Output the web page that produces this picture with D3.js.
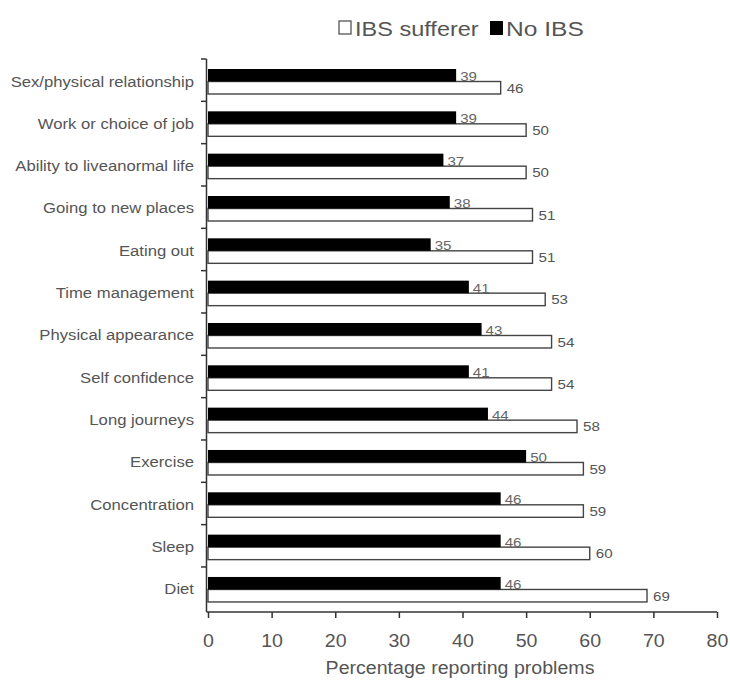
<!DOCTYPE html>
<html>
<head>
<meta charset="utf-8">
<script src="https://cdn.jsdelivr.net/npm/d3@7"></script>
<style>
  html, body { margin: 0; padding: 0; background: #fff; }
  svg { display: block; font-family: "Liberation Sans", Arial, sans-serif; }
</style>
</head>
<body>
<svg id="chart" width="730" height="683"></svg>
<script>
// Problems reported, top to bottom
const categories = [
  "Sex/physical relationship",
  "Work or choice of job",
  "Ability to liveanormal life",
  "Going to new places",
  "Eating out",
  "Time management",
  "Physical appearance",
  "Self confidence",
  "Long journeys",
  "Exercise",
  "Concentration",
  "Sleep",
  "Diet"
];
const noIBS       = [39, 39, 37, 38, 35, 41, 43, 41, 44, 50, 46, 46, 46];
const ibsSufferer = [46, 50, 50, 51, 51, 53, 54, 54, 58, 59, 59, 60, 69];
const seriesNames = ["No IBS", "IBS sufferer"];
const xTicks = [0, 10, 20, 30, 40, 50, 60, 70, 80];
const xTitle = "Percentage reporting problems";

const svg = d3.select("#chart");
const stretch = "scale(1.12,1)";
const textCol = "#555";

const x = d3.scaleLinear().domain([0, 80]).range([208, 717]);
const y0 = d3.scaleBand().domain(categories).range([59, 609.3]).padding(0);
const y1 = d3.scaleBand().domain(seriesNames).range([10, 35]).padding(0);
const axisY = 612;

const rows = categories.map((c, i) => ({ c, no: noIBS[i], ibs: ibsSufferer[i] }));

// bars
const g = svg.append("g");
const row = g.selectAll("g.row").data(rows).join("g")
  .attr("class", "row")
  .attr("transform", d => `translate(0,${y0(d.c)})`);

row.append("rect")
  .attr("x", x(0))
  .attr("y", y1("IBS sufferer"))
  .attr("width", d => x(d.ibs) - x(0))
  .attr("height", y1.bandwidth())
  .attr("fill", "#fff")
  .attr("stroke", "#444")
  .attr("stroke-width", 1.4);

row.append("rect")
  .attr("x", x(0))
  .attr("y", y1("No IBS"))
  .attr("width", d => x(d.no) - x(0))
  .attr("height", y1.bandwidth())
  .attr("fill", "#000");

// value labels
row.append("text")
  .attr("transform", d => `translate(${x(d.no) + 4},${y1("No IBS") + y1.bandwidth() - 0.5}) ${stretch}`)
  .attr("font-size", 13.5)
  .attr("fill", "#666")
  .text(d => d.no);

row.append("text")
  .attr("transform", d => `translate(${x(d.ibs) + 6},${y1("IBS sufferer") + y1.bandwidth() / 2 + 5}) ${stretch}`)
  .attr("font-size", 13.5)
  .attr("fill", textCol)
  .text(d => d.ibs);

// category labels
row.append("text")
  .attr("transform", d => `translate(194,${(y1("No IBS") + y1.bandwidth() + 5)}) scale(1.15,1)`)
  .attr("text-anchor", "end")
  .attr("font-size", 14.5)
  .attr("fill", textCol)
  .text(d => d.c);

// y axis line with boundary ticks
svg.append("line")
  .attr("x1", x(0) - 1.5).attr("x2", x(0) - 1.5)
  .attr("y1", 59).attr("y2", axisY)
  .attr("stroke", "#333").attr("stroke-width", 1.5);
svg.append("g").selectAll("line").data(categories).join("line")
  .attr("x1", x(0) - 7).attr("x2", x(0) - 1.5)
  .attr("y1", d => y0(d)).attr("y2", d => y0(d))
  .attr("stroke", "#333").attr("stroke-width", 1.5);

// x axis
const xAxis = d3.axisBottom(x).tickValues(xTicks).tickSize(6).tickSizeOuter(0).tickFormat(d3.format("d"));
const gx = svg.append("g").attr("transform", `translate(0,${axisY})`).call(xAxis);
gx.select(".domain").attr("stroke", "#333").attr("stroke-width", 1.5)
  .attr("d", `M${x(0) - 1.5},0H${x(80)}`);
gx.selectAll(".tick line").attr("stroke", "#333").attr("stroke-width", 1.5);
gx.selectAll(".tick text")
  .attr("y", 0).attr("dy", 0)
  .attr("transform", `translate(0,35) ${stretch}`)
  .attr("font-size", 17.5)
  .attr("font-family", "Liberation Sans, Arial, sans-serif")
  .attr("fill", textCol);

svg.append("text")
  .attr("transform", `translate(460,674) ${stretch}`)
  .attr("text-anchor", "middle")
  .attr("font-size", 17.5)
  .attr("fill", textCol)
  .text(xTitle);

// legend
const legend = svg.append("g");
legend.append("rect")
  .attr("x", 339).attr("y", 21).attr("width", 12).attr("height", 13)
  .attr("fill", "#fff").attr("stroke", "#555").attr("stroke-width", 1.3);
legend.append("text")
  .attr("transform", `translate(355,36) ${stretch}`)
  .attr("font-size", 21)
  .attr("fill", textCol)
  .text("IBS sufferer");
legend.append("rect")
  .attr("x", 490).attr("y", 21).attr("width", 13).attr("height", 14)
  .attr("fill", "#000");
legend.append("text")
  .attr("transform", `translate(506,36) scale(1.17,1)`)
  .attr("font-size", 21)
  .attr("fill", textCol)
  .text("No IBS");
</script>
</body>
</html>
